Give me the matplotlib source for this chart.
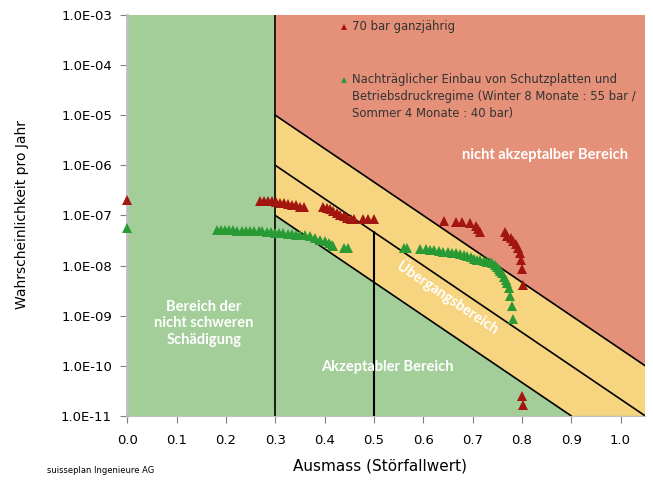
import numpy as np
import matplotlib
matplotlib.use("Agg")
import matplotlib.pyplot as plt
from matplotlib.ticker import FixedLocator, FuncFormatter, NullLocator

# === Daten ===
red_label = "70 bar ganzjährig"
green_label = ("Nachträglicher Einbau von Schutzplatten und\n"
               "Betriebsdruckregime (Winter 8 Monate : 55 bar /\n"
               "Sommer 4 Monate : 40 bar)")

red_x = [0.0,
         0.27, 0.278, 0.286, 0.294, 0.302, 0.31, 0.318, 0.326, 0.334, 0.342, 0.35, 0.358,
         0.397, 0.404, 0.411, 0.418, 0.425, 0.432, 0.439, 0.446, 0.453, 0.46,
         0.478, 0.489, 0.50,
         0.643, 0.666, 0.679, 0.695, 0.706, 0.712, 0.716,
         0.765, 0.770, 0.777, 0.783, 0.789, 0.792, 0.796, 0.798, 0.801, 0.802,
         0.80, 0.802]
red_y = [2.05e-7,
         1.9e-7, 1.9e-7, 1.9e-7, 1.9e-7, 1.85e-7, 1.8e-7, 1.75e-7, 1.7e-7, 1.65e-7, 1.6e-7, 1.5e-7, 1.45e-7,
         1.5e-7, 1.42e-7, 1.32e-7, 1.22e-7, 1.12e-7, 1.03e-7, 9.6e-8, 9.0e-8, 8.6e-8, 8.4e-8,
         8.5e-8, 8.5e-8, 8.5e-8,
         7.8e-8, 7.5e-8, 7.3e-8, 6.95e-8, 6.1e-8, 5.3e-8, 4.7e-8,
         4.6e-8, 3.9e-8, 3.6e-8, 3.1e-8, 2.7e-8, 2.2e-8, 1.75e-8, 1.3e-8, 8.5e-9, 4.1e-9,
         2.5e-11, 1.65e-11]

green_x = [0.0,
           0.181, 0.19, 0.198, 0.206, 0.215, 0.223, 0.232, 0.24, 0.249, 0.257, 0.266, 0.274,
           0.283, 0.291, 0.3, 0.308, 0.316, 0.325, 0.333, 0.341, 0.35, 0.36, 0.371, 0.381,
           0.391, 0.4, 0.408, 0.414, 0.418, 0.44, 0.448,
           0.56, 0.567, 0.594, 0.605, 0.613, 0.621, 0.631, 0.641, 0.65, 0.658, 0.667, 0.675,
           0.682, 0.689, 0.696, 0.702, 0.709, 0.716, 0.723, 0.729, 0.735, 0.7395, 0.745,
           0.7496, 0.753, 0.7563, 0.76, 0.763, 0.767, 0.770, 0.773, 0.7766, 0.78, 0.782]
green_y = [5.5e-8,
           5.2e-8, 5.2e-8, 5.1e-8, 5.1e-8, 5.1e-8, 5.0e-8, 5.0e-8, 5.0e-8, 5.0e-8, 4.9e-8, 4.8e-8, 4.8e-8,
           4.7e-8, 4.6e-8, 4.5e-8, 4.5e-8, 4.4e-8, 4.3e-8, 4.2e-8, 4.1e-8, 4.1e-8, 4.0e-8, 3.8e-8, 3.6e-8,
           3.3e-8, 3.1e-8, 2.85e-8, 2.6e-8, 2.4e-8, 2.2e-8, 2.2e-8,
           2.25e-8, 2.25e-8, 2.15e-8, 2.1e-8, 2.05e-8, 2.0e-8, 1.95e-8, 1.9e-8, 1.85e-8, 1.8e-8, 1.75e-8, 1.7e-8,
           1.65e-8, 1.58e-8, 1.45e-8, 1.33e-8, 1.3e-8, 1.29e-8, 1.24e-8, 1.19e-8, 1.15e-8, 1.1e-8, 1.03e-8,
           9.5e-9, 8.7e-9, 7.9e-9, 7.0e-9, 6.0e-9, 5.2e-9, 4.4e-9, 3.5e-9, 2.45e-9, 1.55e-9, 8.5e-10]

# Bereichsgrenzen (Linienendpunkte)
upper_x, upper_y = [0.3, 1.05], [1e-5, 1e-10]
middle_x, middle_y = [0.3, 1.05], [1e-6, 1e-11]
lower_x, lower_y = [0.3, 0.9], [1e-7, 1e-11]

x_ticks = [0.0, 0.1, 0.2, 0.3, 0.4, 0.5, 0.6, 0.7, 0.8, 0.9, 1.0]
y_ticks = [1e-11, 1e-10, 1e-9, 1e-8, 1e-7, 1e-6, 1e-5, 1e-4, 1e-3]

c_green = "#a3ce9a"
c_yellow = "#f6d480"
c_red_bg = "#e59078"
c_red = "#a3150f"
c_green_pt = "#2a9a35"

plt.rcParams['font.family'] = ['DejaVu Sans']

fig = plt.figure(figsize=(6.53, 4.83), dpi=100)
ax = fig.add_axes([0.195, 0.139, 0.793, 0.830])
ax.set_yscale('log')
ax.set_xlim(0, 1.05)
ax.set_ylim(1e-11, 1e-3)
ax.set_facecolor(c_green)

# === Flächen ===
ax.fill([0.3, 0.3, 1.05, 1.05], [1e-5, 1e-3, 1e-3, 1e-10], color=c_red_bg, lw=0, zorder=1)
ax.fill([0.3, 0.3, 1.05, 1.05, 0.9], [1e-7, 1e-5, 1e-10, 1e-11, 1e-11],
        color=c_yellow, lw=0, zorder=1)

# === Linien ===
lw = 1.2
ax.plot([0.3, 0.3], [1e-11, 1e-3], color='black', lw=lw, zorder=2)
ax.plot(upper_x, upper_y, color='black', lw=lw, zorder=2)
ax.plot(middle_x, middle_y, color='black', lw=lw, zorder=2)
ax.plot(lower_x, lower_y, color='black', lw=lw, zorder=2)
y05 = 10 ** np.interp(0.5, middle_x, np.log10(middle_y))
ax.plot([0.5, 0.5], [1e-11, y05], color='black', lw=1.5, zorder=2)

# === Punkte ===
ax.plot(red_x, red_y, ls='none', marker='^', ms=6.5, color=c_red, mew=0,
        clip_on=False, zorder=3)
ax.plot(green_x, green_y, ls='none', marker='^', ms=6.5, color=c_green_pt, mew=0,
        clip_on=False, zorder=3)

# === Legende (von Hand, Marker an erster Zeile) ===
leg_font = dict(fontsize=8.4, color='#333333', transform=ax.transAxes, zorder=4)
ax.plot([0.418], [0.970], ls='none', marker='^', ms=4.5, color=c_red, mew=0,
        transform=ax.transAxes, zorder=4)
ax.text(0.434, 0.970, red_label, va='center', ha='left', **leg_font)
ax.plot([0.418], [0.838], ls='none', marker='^', ms=4.5, color=c_green_pt, mew=0,
        transform=ax.transAxes, zorder=4)
ax.text(0.434, 0.855, green_label, va='top', ha='left', linespacing=1.4, **leg_font)

# === Bereichsbeschriftungen ===
lab = dict(color='white', fontsize=10.5, fontweight='bold', family=['Lato', 'DejaVu Sans'],
           ha='center', va='center', zorder=4)
ax.text(0.155, 7.0e-10, "Bereich der\nnicht schweren\nSchädigung", linespacing=1.25, **lab)
ax.text(0.527, 9.3e-11, "Akzeptabler Bereich", **lab)
ax.text(0.847, 1.6e-6, "nicht akzeptalber Bereich", **lab)
ax.text(0.651, 2.3e-9, "Übergangsbereich", rotation=-34, rotation_mode='anchor', **lab)

# === Achsen ===
ax.xaxis.set_major_locator(FixedLocator(x_ticks))
ax.xaxis.set_major_formatter(FuncFormatter(lambda v, p: f"{v:.1f}"))
ax.yaxis.set_major_locator(FixedLocator(y_ticks))
ax.yaxis.set_minor_locator(NullLocator())
ax.yaxis.set_major_formatter(FuncFormatter(lambda v, p: f"1.0E-{int(round(-np.log10(v))):02d}"))
ax.tick_params(axis='both', labelsize=9.5, color='#808080', length=5, width=0.8)
ax.tick_params(axis='x', pad=8)
ax.tick_params(axis='y', pad=6)

for s in ['top', 'right']:
    ax.spines[s].set_visible(False)
ax.spines['left'].set_color('#bfbfbf')
ax.spines['left'].set_linewidth(2)
ax.spines['bottom'].set_color('#bfbfbf')
ax.spines['bottom'].set_linewidth(0.8)

fig.text(0.034, 0.555, "Wahrscheinlichkeit pro Jahr", rotation=90, ha='center', va='center',
         fontsize=10)
fig.text(0.582, 0.035, "Ausmass (Störfallwert)", ha='center', va='center', fontsize=11)
fig.text(0.072, 0.025, "suisseplan Ingenieure AG", ha='left', va='center', fontsize=6)

fig.savefig("out.png", dpi=100)
